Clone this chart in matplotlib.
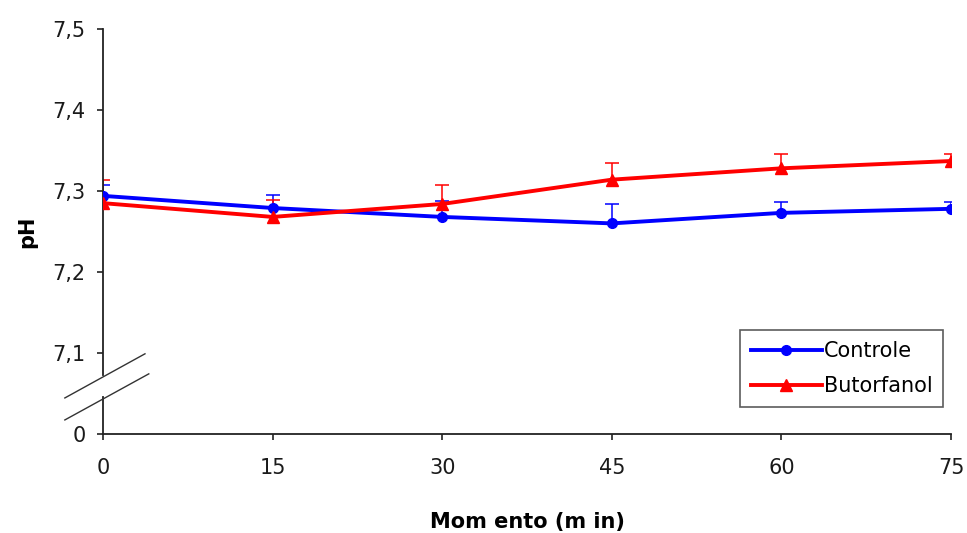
import numpy as np
import matplotlib.pyplot as plt

plt.rcParams['font.family'] = ['DejaVu Sans']

# tempo (min) e pH medio + desvio (so barra superior)
tempo = [0, 15, 30, 45, 60, 75]
controle = [7.294, 7.279, 7.268, 7.260, 7.273, 7.278]
controle_dp = [0.013, 0.016, 0.020, 0.024, 0.013, 0.008]
butorfanol = [7.285, 7.268, 7.284, 7.314, 7.328, 7.337]
butorfanol_dp = [0.029, 0.021, 0.023, 0.021, 0.018, 0.009]

yticks = [7.0, 7.1, 7.2, 7.3, 7.4, 7.5]
ylabels = ['0', '7,1', '7,2', '7,3', '7,4', '7,5']

fig = plt.figure(figsize=(9.67, 5.33), dpi=100)
ax = fig.add_axes([103 / 967, 99 / 533, 848 / 967, 405 / 533])

eb1 = ax.errorbar(tempo, controle, yerr=[np.zeros(len(tempo)), controle_dp],
                  color='#0000ff', lw=2.8, marker='o', ms=7, elinewidth=1.1,
                  capsize=4.7, capthick=1.1)
eb2 = ax.errorbar(tempo, butorfanol, yerr=[np.zeros(len(tempo)), butorfanol_dp],
                  color='#ff0000', lw=2.8, marker='^', ms=8, elinewidth=1.1,
                  capsize=4.7, capthick=1.1)

ax.set_xlim(0, 75)
ax.set_ylim(7.0, 7.5)
ax.set_xticks(tempo)
ax.set_yticks(yticks)
ax.set_yticklabels(ylabels)
ax.tick_params(axis='both', direction='out', length=4.5, width=1.2,
               labelsize=15, labelcolor='#1a1a1a', color='#222222')
ax.tick_params(axis='y', pad=8)
ax.tick_params(axis='x', pad=13)

for s in ['top', 'right', 'left']:
    ax.spines[s].set_visible(False)
ax.spines['bottom'].set_linewidth(1.3)
ax.spines['bottom'].set_color('#222222')

# eixo y interrompido
ax.plot([0, 0], [0, 0.092], transform=ax.transAxes, color='#222222',
        lw=1.3, clip_on=False)
ax.plot([0, 0], [0.146, 1], transform=ax.transAxes, color='#222222',
        lw=1.3, clip_on=False)
ax.plot([-0.045, 0.0495], [0.089, 0.198], transform=ax.transAxes,
        color='#333333', lw=1.0, clip_on=False)
ax.plot([-0.045, 0.054], [0.0347, 0.1485], transform=ax.transAxes,
        color='#333333', lw=1.0, clip_on=False)

ax.set_xlabel('Mom ento (m in)', fontsize=15, fontweight='bold', labelpad=24)
ax.set_ylabel('pH', fontsize=15, fontweight='bold', labelpad=11)

leg = ax.legend([eb1[0], eb2[0]], ['Controle', 'Butorfanol'],
                loc='lower right', bbox_to_anchor=(0.9905, 0.067),
                fontsize=15, frameon=True, fancybox=False,
                handlelength=3.4, handletextpad=0.1, borderpad=0.5,
                labelspacing=0.75, borderaxespad=0)
leg.get_frame().set_edgecolor('#333333')
leg.get_frame().set_linewidth(1.2)

fig.savefig('out.png', dpi=100)
